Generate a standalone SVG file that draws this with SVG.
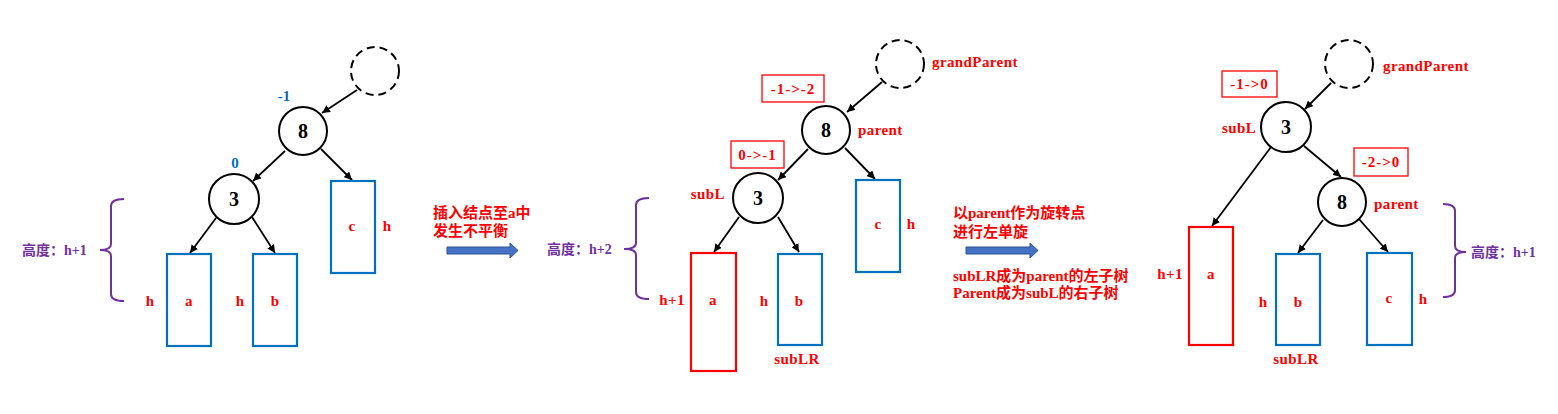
<svg xmlns="http://www.w3.org/2000/svg" width="1558" height="414" viewBox="0 0 1558 414">
<style>
.node{fill:#fff;stroke:#000;stroke-width:2}
.dash{fill:none;stroke:#000;stroke-width:2;stroke-dasharray:8,5}
.bbox{fill:#fff;stroke:#0070C0;stroke-width:2.2}
.rbox{fill:#fff;stroke:#FF0000;stroke-width:2.2}
.tag{fill:#fff;stroke:#FF0000;stroke-width:1.3}
.edge{stroke:#000;stroke-width:1.8;fill:none;marker-end:url(#ah)}
.brace{fill:none;stroke:#7030A0;stroke-width:2}
.num{font-family:"Liberation Serif",serif;font-weight:bold;font-size:20px;fill:#000;text-anchor:middle}
.lbl{font-family:"Liberation Serif","Noto Sans CJK SC",serif;font-weight:bold;font-size:15px;letter-spacing:0.4px;fill:#FF0000}
.tg{letter-spacing:1px}
.mid{text-anchor:middle}
.end{text-anchor:end}
.bf{font-family:"Liberation Serif",serif;font-weight:bold;font-size:15px;fill:#0070C0;text-anchor:middle}
.pur{font-family:"Liberation Serif","Noto Sans CJK SC",serif;font-weight:bold;font-size:14px;fill:#7030A0}
.cn{font-family:"Liberation Serif","Noto Sans CJK SC",serif;font-weight:bold;font-size:15px;fill:#FF0000}
.big{fill:#4472C4;stroke:#2F528F;stroke-width:1}
</style>
<defs>
<marker id="ah" viewBox="0 0 10 10" refX="10" refY="5" markerWidth="8" markerHeight="8" markerUnits="userSpaceOnUse" orient="auto">
<path d="M0,0 L10,5 L0,10 z" fill="#000"/>
</marker>
</defs>
<rect width="1558" height="414" fill="#fff"/>

<g id="connectors">
<line class="edge" x1="357" y1="90" x2="322" y2="113"/>
<line class="edge" x1="285" y1="151" x2="253" y2="181"/>
<line class="edge" x1="321" y1="149" x2="352" y2="180"/>
<line class="edge" x1="216" y1="218" x2="190" y2="253"/>
<line class="edge" x1="252" y1="217" x2="275" y2="253"/>
<line class="edge" x1="882" y1="82" x2="847" y2="112"/>
<line class="edge" x1="808" y1="149" x2="778" y2="180"/>
<line class="edge" x1="845" y1="148" x2="875" y2="179"/>
<line class="edge" x1="739" y1="217" x2="714" y2="252"/>
<line class="edge" x1="778" y1="217" x2="799" y2="252"/>
<line class="edge" x1="1331" y1="83" x2="1305" y2="109"/>
<line class="edge" x1="1304" y1="146" x2="1341" y2="177"/>
<line class="edge" x1="1271" y1="147" x2="1212" y2="226"/>
<line class="edge" x1="1323" y1="220" x2="1298" y2="253"/>
<line class="edge" x1="1359" y1="219" x2="1388" y2="252"/>
</g>

<!-- Panel 1 -->
<g id="p1-grand"><circle class="dash" cx="375" cy="71" r="24"/></g>
<g id="p1-n8"><circle class="node" cx="303" cy="131" r="24"/><text class="num" x="303" y="138">8</text><text class="bf" x="284" y="101">-1</text></g>
<g id="p1-n3"><circle class="node" cx="234" cy="199" r="25"/><text class="num" x="234" y="206">3</text><text class="bf" x="235" y="168">0</text></g>
<g id="p1-c"><rect class="bbox" x="331" y="181" width="44" height="92"/><text class="lbl mid" x="352" y="231">c</text><text class="lbl mid" x="387" y="231">h</text></g>
<g id="p1-a"><rect class="bbox" x="167" y="254" width="44" height="92"/><text class="lbl mid" x="189" y="306">a</text><text class="lbl mid" x="150" y="306">h</text></g>
<g id="p1-b"><rect class="bbox" x="253" y="254" width="44" height="92"/><text class="lbl mid" x="275" y="306">b</text><text class="lbl mid" x="240" y="306">h</text></g>
<g id="p1-height"><path class="brace" d="M124,199 Q111,199 111,206 V244 Q111,250 100,250 Q111,250 111,256 V294 Q111,301 124,301"/><text class="pur" x="22" y="255">高度：h+1</text></g>

<g id="step1">
<text class="cn" x="433" y="218">插入结点至a中</text>
<text class="cn" x="433" y="236">发生不平衡</text>
<polygon class="big" points="447,247 510,247 510,243 518,250.5 510,258 510,254 447,254"/>
</g>

<!-- Panel 2 -->
<g id="p2-grand"><circle class="dash" cx="900" cy="64" r="24"/><text class="lbl" x="932" y="67">grandParent</text></g>
<g id="p2-n8"><circle class="node" cx="826" cy="130" r="24"/><text class="num" x="826" y="137">8</text><text class="lbl" x="858" y="135">parent</text>
<rect class="tag" x="762" y="75" width="62" height="27"/><text class="lbl tg mid" x="793" y="94">-1-&gt;-2</text></g>
<g id="p2-n3"><circle class="node" cx="758" cy="198" r="25"/><text class="num" x="758" y="205">3</text><text class="lbl end" x="725" y="199">subL</text>
<rect class="tag" x="731" y="141" width="53" height="27"/><text class="lbl tg mid" x="757.5" y="160">0-&gt;-1</text></g>
<g id="p2-c"><rect class="bbox" x="856" y="180" width="44" height="92"/><text class="lbl mid" x="878" y="229">c</text><text class="lbl mid" x="911" y="229">h</text></g>
<g id="p2-a"><rect class="rbox" x="691" y="253" width="45" height="118"/><text class="lbl mid" x="713" y="305">a</text><text class="lbl mid" x="672" y="305">h+1</text></g>
<g id="p2-b"><rect class="bbox" x="778" y="254" width="44" height="91"/><text class="lbl mid" x="799" y="306">b</text><text class="lbl mid" x="764" y="306">h</text><text class="lbl mid" x="797" y="364">subLR</text></g>
<g id="p2-height"><path class="brace" d="M649,198 Q636,198 636,205 V243 Q636,249 624,249 Q636,249 636,255 V292 Q636,299 649,299"/><text class="pur" x="547" y="254">高度：h+2</text></g>

<g id="step2">
<text class="cn" x="953" y="218">以parent作为旋转点</text>
<text class="cn" x="953" y="237">进行左单旋</text>
<polygon class="big" points="966,247 1030,247 1030,243 1038,250.5 1030,258 1030,254 966,254"/>
<text class="cn" x="953" y="281">subLR成为parent的左子树</text>
<text class="cn" x="953" y="298">Parent成为subL的右子树</text>
</g>

<!-- Panel 3 -->
<g id="p3-grand"><circle class="dash" cx="1349" cy="64" r="24"/><text class="lbl" x="1383" y="71">grandParent</text></g>
<g id="p3-n3"><circle class="node" cx="1286" cy="127" r="25"/><text class="num" x="1286" y="134">3</text><text class="lbl" x="1222" y="133">subL</text>
<rect class="tag" x="1222" y="71" width="55" height="26"/><text class="lbl tg mid" x="1249.5" y="89">-1-&gt;0</text></g>
<g id="p3-n8"><circle class="node" cx="1342" cy="202" r="24"/><text class="num" x="1342" y="209">8</text><text class="lbl" x="1374" y="209">parent</text>
<rect class="tag" x="1354" y="148" width="54" height="28"/><text class="lbl tg mid" x="1381" y="167">-2-&gt;0</text></g>
<g id="p3-a"><rect class="rbox" x="1189" y="227" width="44" height="118"/><text class="lbl mid" x="1211" y="279">a</text><text class="lbl mid" x="1170" y="279">h+1</text></g>
<g id="p3-b"><rect class="bbox" x="1276" y="254" width="44" height="91"/><text class="lbl mid" x="1298" y="307">b</text><text class="lbl mid" x="1263" y="307">h</text><text class="lbl mid" x="1296" y="364">subLR</text></g>
<g id="p3-c"><rect class="bbox" x="1367" y="253" width="45" height="92"/><text class="lbl mid" x="1389" y="303">c</text><text class="lbl mid" x="1423" y="304">h</text></g>
<g id="p3-height"><path class="brace" d="M1443,204 Q1455,204 1455,211 V246 Q1455,252 1466,252 Q1455,252 1455,258 V290 Q1455,297 1443,297"/><text class="pur" x="1471" y="257">高度：h+1</text></g>
</svg>
